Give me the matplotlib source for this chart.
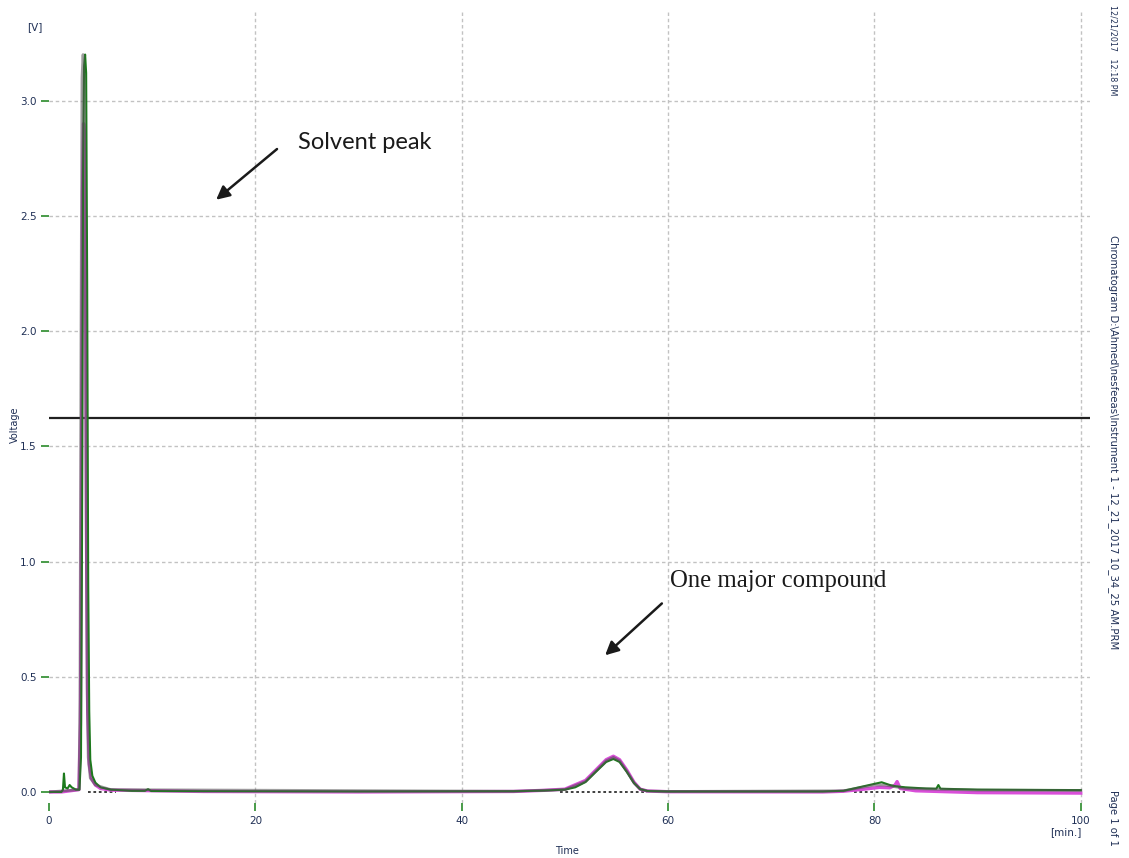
"""
Chromatogram trace with solvent peak and one major compound peak
"""

import numpy as np
import matplotlib
matplotlib.use("Agg")
import matplotlib.pyplot as plt

# ---- data (time in min, voltage in V) ----
green_t = [0, 1.2, 1.35, 1.45, 1.55, 1.8, 2.0, 2.2, 2.6, 2.95, 3.1, 3.2, 3.3, 3.4,
           3.5, 3.6, 3.7, 3.8, 3.9, 4.0, 4.2, 4.5, 5.0, 6.0, 8.0, 9.3, 9.6, 9.9,
           15, 30, 45, 48, 50, 51, 52, 53, 54, 54.7, 55.3, 56, 56.7, 57.3, 58, 60,
           75, 77, 78.5, 80, 80.7, 81.5, 82, 83, 85, 86, 86.2, 86.4, 90, 100]
green_v = [0.0, 0.0, 0.01, 0.08, 0.02, 0.015, 0.03, 0.02, 0.01, 0.01, 0.15, 1.1, 2.7, 3.15,
           3.2, 3.12, 2.2, 0.9, 0.35, 0.14, 0.07, 0.04, 0.02, 0.01, 0.005, 0.005, 0.012, 0.004,
           0.003, 0.002, 0.003, 0.006, 0.01, 0.02, 0.043, 0.087, 0.13, 0.143, 0.13, 0.087, 0.038, 0.012, 0.004, 0.002,
           0.002, 0.005, 0.02, 0.035, 0.042, 0.03, 0.025, 0.02, 0.015, 0.014, 0.03, 0.014, 0.01, 0.008]

magenta_t = [0, 1.2, 2.9, 3.05, 3.15, 3.25, 3.35, 3.45, 3.55, 3.65, 3.75, 3.9, 4.1, 4.5,
             5.0, 6.0, 15, 30, 45, 48, 50, 52, 53, 54, 54.7, 55.3, 56, 56.7, 57.3, 58, 60,
             75, 77, 79, 80.5, 81.5, 82, 82.2, 82.5, 84, 90, 100]
magenta_v = [0.0, 0.0, 0.01, 0.3, 1.4, 2.6, 2.9, 2.85, 2.2, 1.0, 0.35, 0.12, 0.06, 0.03,
             0.015, 0.008, 0.002, 0.0, 0.002, 0.007, 0.012, 0.05, 0.095, 0.14, 0.155, 0.14, 0.095, 0.042, 0.012, 0.004, 0.001,
             0.0, 0.003, 0.012, 0.02, 0.018, 0.03, 0.045, 0.015, 0.005, -0.003, -0.005]

gray_t = [0, 2.9, 3.0, 3.1, 3.2, 3.3, 3.4, 3.5, 3.6, 3.7, 3.8, 4.0, 4.5, 6.0,
          45, 50, 52, 53, 54, 54.7, 55.3, 56, 56.7, 57.3, 58, 60, 77, 80, 81, 83, 90, 100]
gray_v = [0.0, 0.01, 0.4, 2.0, 3.1, 3.2, 3.1, 2.5, 1.2, 0.45, 0.15, 0.06, 0.03, 0.01,
          0.003, 0.01, 0.045, 0.09, 0.135, 0.15, 0.135, 0.09, 0.04, 0.012, 0.004, 0.002, 0.005, 0.03, 0.03, 0.015, 0.008, 0.006]

# integration baselines (start, end) at 0 V
baseline_segments = [(3.8, 6.5), (49.5, 58.0), (78.0, 83.0)]
threshold_level = 1.623

x_ticks = [0, 20, 40, 60, 80, 100]
y_ticks = [0.0, 0.5, 1.0, 1.5, 2.0, 2.5, 3.0]

tick_col = '#1f2f55'

fig = plt.figure(figsize=(11.29, 8.58), dpi=100)
ax = fig.add_axes([0.0434, 0.0641, 0.9221, 0.922])

ax.set_xlim(0, 100.9)
ax.set_ylim(-0.048, 3.385)

for s in ax.spines.values():
    s.set_visible(False)

# grid
for xv in x_ticks[1:]:
    ax.axvline(xv, color='#c2c2c2', lw=1, ls=(0, (2.5, 2)), zorder=0)
for yv in y_ticks[1:]:
    ax.axhline(yv, color='#c2c2c2', lw=1, ls=(0, (2.5, 2)), zorder=0)

# threshold line
ax.axhline(threshold_level, color='#202020', lw=1.6, zorder=1)

# baselines
for a, b in baseline_segments:
    ax.plot([a, b], [0, 0], color='#303030', lw=1.3, ls=(0, (1.5, 1.5)), zorder=2)

ax.plot(magenta_t, magenta_v, color='#d94fd9', lw=2.4, zorder=3)
ax.plot(green_t, green_v, color='#1c7a1c', lw=1.5, zorder=4)
ax.plot(gray_t, gray_v, color='#505050', lw=2.0, alpha=0.55, zorder=5)

# ticks
ax.set_xticks(x_ticks)
ax.set_yticks(y_ticks)
ax.set_yticklabels(['%.1f' % v for v in y_ticks])
ax.tick_params(axis='both', color='#2a8a2a', length=6, width=1.2,
               labelsize=7.5, labelcolor=tick_col, pad=3)

# axis texts
fig.text(35 / 1129, 1 - 27 / 858, '[V]', fontsize=7.5, color=tick_col, ha='center', va='center')
fig.text(15 / 1129, 1 - 425 / 858, 'Voltage', fontsize=7, color=tick_col,
         rotation=90, ha='center', va='center')
fig.text(567 / 1129, 1 - 851 / 858, 'Time', fontsize=7, color=tick_col, ha='center', va='center')
fig.text(1066 / 1129, 1 - 832 / 858, '[min.]', fontsize=7.5, color=tick_col, ha='center', va='center')

# side texts
fig.text(1113 / 1129, 1 - 50 / 858, '12/21/2017   12:18 PM', fontsize=5.8, color=tick_col,
         rotation=-90, ha='center', va='center')
fig.text(1113 / 1129, 1 - 442 / 858,
         r'Chromatogram D:\Ahmed\nesfeeas\Instrument 1 - 12_21_2017 10_34_25 AM.PRM',
         fontsize=7.3, color=tick_col, rotation=-90, ha='center', va='center')
fig.text(1113 / 1129, 1 - 818 / 858, 'Page 1 of 1', fontsize=7.2, color=tick_col,
         rotation=-90, ha='center', va='center')

# annotations
ax.annotate('', xy=(16.2, 2.57), xytext=(22.1, 2.79),
            arrowprops=dict(arrowstyle='-|>', color='#1a1a1a', lw=1.8,
                            mutation_scale=20, shrinkA=0, shrinkB=0))
ax.text(24.1, 2.82, 'Solvent peak', fontsize=17, family='Lato', color='#1a1a1a',
        ha='left', va='center')

ax.annotate('', xy=(53.9, 0.593), xytext=(59.4, 0.818),
            arrowprops=dict(arrowstyle='-|>', color='#1a1a1a', lw=1.8,
                            mutation_scale=20, shrinkA=0, shrinkB=0))
ax.text(60.2, 0.915, 'One major compound', fontsize=17.8, family='Liberation Serif',
        color='#1a1a1a', ha='left', va='center')

fig.savefig('out.png', dpi=100)
